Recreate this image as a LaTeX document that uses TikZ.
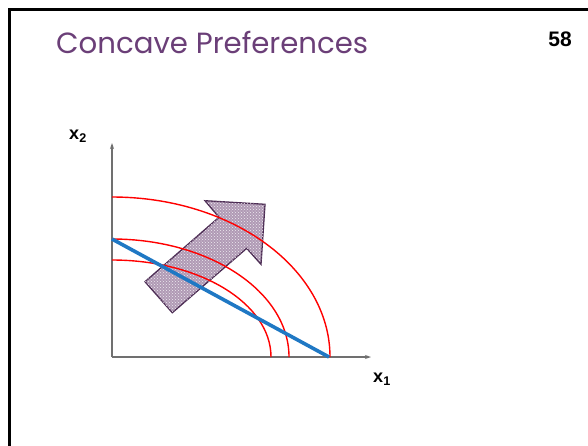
\documentclass[tikz,border=0pt]{standalone}
\usepackage{fontspec}
\setmainfont{Liberation Sans}
\newfontfamily\titlefont{Poppins}
\usetikzlibrary{arrows.meta,patterns}
\definecolor{titlepurple}{HTML}{6B3F78}
\definecolor{curvered}{HTML}{FF0000}
\definecolor{budgetblue}{HTML}{1F78C4}
\definecolor{arrowfill}{HTML}{B09AB5}
\definecolor{arrowedge}{HTML}{4A2A52}
\definecolor{axisgray}{HTML}{707070}
\tikzset{
  axis/.style={draw=axisgray, line width=1.3pt, -{Stealth[length=6pt,width=4pt]}},
  indiff/.style={draw=curvered, line width=1.4pt},
  budget/.style={draw=budgetblue, line width=3.6pt},
  bigarrow/.style={draw=arrowedge, line width=1.3pt, fill=arrowfill},
  axlabel/.style={font=\bfseries\fontsize{18}{20}\selectfont, inner sep=0pt},
}
\begin{document}
\begin{tikzpicture}[x=1pt,y=-1pt]
\useasboundingbox (0,0) rectangle (588,445);
\fill[white] (0,0) rectangle (588,445);
% frame
\draw[line width=3pt] (9.5,450) -- (9.5,9.5) -- (600,9.5);
% title and page number
\node[anchor=base west, inner sep=0pt, text=titlepurple, font=\titlefont\fontsize{29.2}{33}\selectfont] (title) at (56,53) {Concave Preferences};
\node[anchor=base east, inner sep=0pt, font=\bfseries\fontsize{21}{24}\selectfont] (page) at (572,46) {58};
% axes
\coordinate (O) at (112,357);
\coordinate (ytip) at (112,143);
\coordinate (xtip) at (371,357);
% big arrow (behind the curves)
\filldraw[bigarrow] (172.3,312.7) -- (145,281.7) -- (219,217.3) -- (205,200.7) -- (265,204.3) -- (261,264.3) -- (246.7,248.3) -- cycle;
\fill[pattern=crosshatch dots, pattern color=white!80!arrowfill] (172.3,312.7) -- (145,281.7) -- (219,217.3) -- (205,200.7) -- (265,204.3) -- (261,264.3) -- (246.7,248.3) -- cycle;
\draw[axis] (O) -- (ytip);
\draw[axis] (O) -- (xtip);
\node[axlabel] (x2) at (78,136) {x\textsubscript{2}};
\node[axlabel] (x1) at (382,379) {x\textsubscript{1}};
% indifference curves (quarter ellipses)
\draw[indiff] (112,197) arc[start angle=90, end angle=0, x radius=218, y radius=-160];
\draw[indiff] (112,239) arc[start angle=90, end angle=0, x radius=177, y radius=-118];
\draw[indiff] (112,260) arc[start angle=90, end angle=0, x radius=159, y radius=-97];
% budget line
\coordinate (b1) at (112,239);
\coordinate (b2) at (329,357);
\draw[budget] (b1) -- (b2);
\end{tikzpicture}
\end{document}
